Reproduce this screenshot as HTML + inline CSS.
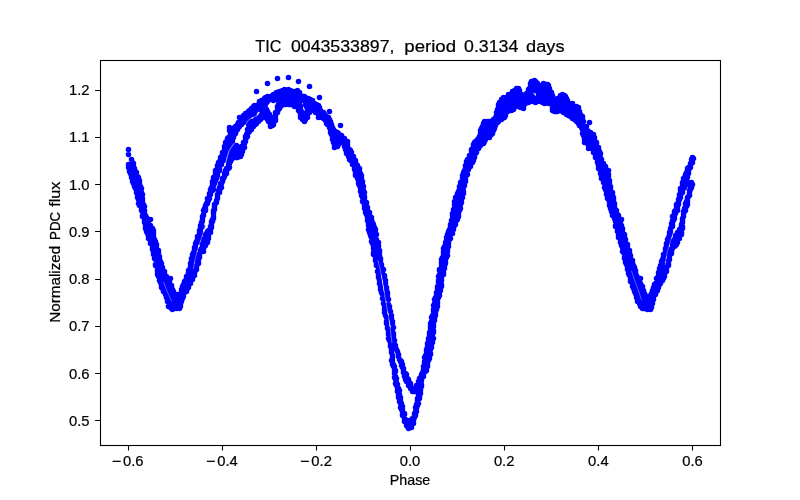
<!DOCTYPE html><html><head><meta charset="utf-8"><title>plot</title><style>html,body{margin:0;padding:0;background:#fff}svg{display:block}text{font-family:"Liberation Sans",sans-serif;fill:#000;stroke:#000;stroke-width:.22px}</style></head><body><svg width="800" height="500" viewBox="0 0 800 500"><rect width="800" height="500" fill="#fff"/><clipPath id="c"><rect x="100" y="60" width="620" height="385"/></clipPath><g clip-path="url(#c)"><path d="M128.5 149.5h0M128.5 154.5h0M128.5 164.5h0M128.5 167.5h0M129.5 167.5h0M129.5 171.5h0M130.5 173.5h0M131.5 159.5h0M131.5 164.5h0M131.5 165.5h0M131.5 166.5h0M131.5 170.5h0M131.5 176.5h0M131.5 177.5h0M132.5 162.5h0M132.5 165.5h0M132.5 181.5h0M133.5 163.5h0M133.5 166.5h0M133.5 171.5h0M133.5 183.5h0M134.5 168.5h0M134.5 174.5h0M134.5 176.5h0M134.5 186.5h0M135.5 171.5h0M135.5 179.5h0M135.5 188.5h0M136.5 172.5h0M136.5 181.5h0M136.5 192.5h0M137.5 176.5h0M137.5 185.5h0M137.5 194.5h0M137.5 197.5h0M138.5 177.5h0M138.5 187.5h0M138.5 191.5h0M138.5 199.5h0M138.5 203.5h0M139.5 180.5h0M139.5 183.5h0M139.5 193.5h0M139.5 205.5h0M140.5 186.5h0M140.5 197.5h0M140.5 199.5h0M141.5 188.5h0M141.5 192.5h0M141.5 203.5h0M141.5 209.5h0M141.5 210.5h0M142.5 194.5h0M142.5 198.5h0M142.5 200.5h0M142.5 205.5h0M142.5 209.5h0M142.5 211.5h0M142.5 215.5h0M142.5 216.5h0M143.5 204.5h0M144.5 206.5h0M144.5 210.5h0M144.5 211.5h0M144.5 214.5h0M144.5 216.5h0M144.5 220.5h0M144.5 222.5h0M145.5 215.5h0M145.5 220.5h0M145.5 226.5h0M145.5 228.5h0M146.5 217.5h0M146.5 221.5h0M146.5 231.5h0M147.5 220.5h0M147.5 224.5h0M147.5 233.5h0M148.5 221.5h0M148.5 226.5h0M148.5 229.5h0M148.5 236.5h0M148.5 238.5h0M149.5 225.5h0M149.5 230.5h0M150.5 219.5h0M150.5 225.5h0M150.5 234.5h0M150.5 236.5h0M150.5 241.5h0M150.5 243.5h0M151.5 240.5h0M152.5 228.5h0M152.5 241.5h0M152.5 247.5h0M152.5 249.5h0M153.5 230.5h0M153.5 233.5h0M153.5 236.5h0M153.5 252.5h0M153.5 254.5h0M154.5 239.5h0M154.5 245.5h0M154.5 247.5h0M154.5 258.5h0M155.5 241.5h0M155.5 250.5h0M155.5 252.5h0M155.5 259.5h0M155.5 264.5h0M155.5 265.5h0M156.5 244.5h0M156.5 246.5h0M156.5 256.5h0M157.5 258.5h0M157.5 269.5h0M157.5 271.5h0M157.5 274.5h0M158.5 250.5h0M158.5 252.5h0M158.5 261.5h0M158.5 264.5h0M158.5 276.5h0M159.5 256.5h0M159.5 258.5h0M159.5 268.5h0M159.5 280.5h0M160.5 261.5h0M160.5 269.5h0M160.5 282.5h0M161.5 263.5h0M161.5 273.5h0M161.5 285.5h0M161.5 287.5h0M162.5 267.5h0M162.5 268.5h0M162.5 274.5h0M162.5 278.5h0M162.5 286.5h0M162.5 287.5h0M162.5 288.5h0M163.5 279.5h0M163.5 286.5h0M163.5 289.5h0M163.5 291.5h0M164.5 271.5h0M164.5 273.5h0M164.5 282.5h0M164.5 285.5h0M164.5 287.5h0M165.5 284.5h0M165.5 285.5h0M165.5 290.5h0M165.5 292.5h0M165.5 294.5h0M166.5 276.5h0M166.5 278.5h0M166.5 289.5h0M166.5 290.5h0M166.5 294.5h0M166.5 296.5h0M166.5 297.5h0M167.5 287.5h0M167.5 288.5h0M167.5 289.5h0M167.5 292.5h0M167.5 296.5h0M167.5 298.5h0M167.5 299.5h0M167.5 301.5h0M168.5 281.5h0M168.5 287.5h0M168.5 291.5h0M168.5 294.5h0M168.5 297.5h0M168.5 300.5h0M168.5 306.5h0M169.5 281.5h0M169.5 285.5h0M169.5 289.5h0M169.5 292.5h0M169.5 295.5h0M169.5 298.5h0M169.5 302.5h0M169.5 304.5h0M169.5 305.5h0M170.5 278.5h0M170.5 287.5h0M170.5 290.5h0M170.5 294.5h0M170.5 297.5h0M170.5 300.5h0M170.5 304.5h0M170.5 307.5h0M171.5 285.5h0M171.5 286.5h0M171.5 288.5h0M171.5 292.5h0M171.5 296.5h0M171.5 299.5h0M171.5 302.5h0M171.5 305.5h0M171.5 308.5h0M172.5 289.5h0M172.5 290.5h0M172.5 294.5h0M172.5 297.5h0M172.5 300.5h0M172.5 303.5h0M172.5 307.5h0M172.5 309.5h0M173.5 291.5h0M173.5 292.5h0M173.5 294.5h0M173.5 295.5h0M173.5 299.5h0M173.5 302.5h0M173.5 305.5h0M174.5 297.5h0M174.5 300.5h0M174.5 304.5h0M174.5 307.5h0M175.5 297.5h0M175.5 298.5h0M175.5 302.5h0M175.5 305.5h0M176.5 300.5h0M176.5 304.5h0M176.5 307.5h0M176.5 308.5h0M177.5 294.5h0M177.5 297.5h0M177.5 299.5h0M177.5 301.5h0M177.5 302.5h0M177.5 304.5h0M177.5 305.5h0M177.5 307.5h0M178.5 305.5h0M179.5 297.5h0M179.5 299.5h0M179.5 300.5h0M179.5 302.5h0M179.5 303.5h0M179.5 308.5h0M180.5 294.5h0M180.5 296.5h0M180.5 299.5h0M180.5 302.5h0M180.5 304.5h0M180.5 306.5h0M181.5 289.5h0M181.5 291.5h0M181.5 296.5h0M181.5 300.5h0M181.5 301.5h0M182.5 286.5h0M182.5 290.5h0M182.5 293.5h0M182.5 295.5h0M182.5 297.5h0M182.5 298.5h0M183.5 284.5h0M183.5 292.5h0M183.5 293.5h0M183.5 296.5h0M184.5 281.5h0M184.5 288.5h0M184.5 290.5h0M184.5 292.5h0M185.5 280.5h0M185.5 287.5h0M185.5 290.5h0M185.5 291.5h0M186.5 276.5h0M186.5 289.5h0M186.5 291.5h0M187.5 275.5h0M187.5 283.5h0M187.5 288.5h0M188.5 270.5h0M188.5 272.5h0M188.5 282.5h0M188.5 287.5h0M189.5 269.5h0M189.5 277.5h0M189.5 279.5h0M189.5 283.5h0M190.5 263.5h0M190.5 266.5h0M190.5 269.5h0M190.5 283.5h0M191.5 258.5h0M191.5 260.5h0M191.5 263.5h0M191.5 266.5h0M191.5 272.5h0M191.5 274.5h0M192.5 254.5h0M192.5 260.5h0M192.5 268.5h0M192.5 269.5h0M192.5 278.5h0M192.5 279.5h0M193.5 252.5h0M193.5 254.5h0M193.5 257.5h0M194.5 247.5h0M194.5 249.5h0M194.5 253.5h0M194.5 273.5h0M194.5 275.5h0M195.5 243.5h0M195.5 246.5h0M195.5 248.5h0M195.5 270.5h0M196.5 241.5h0M196.5 265.5h0M196.5 266.5h0M196.5 267.5h0M196.5 268.5h0M196.5 269.5h0M197.5 236.5h0M197.5 237.5h0M197.5 242.5h0M197.5 259.5h0M197.5 261.5h0M198.5 238.5h0M198.5 256.5h0M198.5 261.5h0M198.5 263.5h0M199.5 230.5h0M199.5 232.5h0M199.5 237.5h0M199.5 253.5h0M199.5 255.5h0M199.5 257.5h0M200.5 225.5h0M200.5 227.5h0M200.5 231.5h0M200.5 233.5h0M200.5 250.5h0M200.5 251.5h0M201.5 222.5h0M201.5 227.5h0M201.5 248.5h0M202.5 216.5h0M202.5 219.5h0M202.5 220.5h0M202.5 221.5h0M202.5 226.5h0M202.5 243.5h0M202.5 245.5h0M202.5 248.5h0M203.5 210.5h0M203.5 214.5h0M203.5 215.5h0M203.5 240.5h0M203.5 248.5h0M203.5 251.5h0M204.5 208.5h0M204.5 238.5h0M204.5 242.5h0M204.5 243.5h0M204.5 246.5h0M205.5 205.5h0M205.5 208.5h0M205.5 210.5h0M205.5 234.5h0M205.5 245.5h0M206.5 203.5h0M206.5 204.5h0M206.5 233.5h0M206.5 237.5h0M206.5 239.5h0M207.5 198.5h0M207.5 199.5h0M207.5 203.5h0M207.5 231.5h0M207.5 234.5h0M207.5 241.5h0M207.5 242.5h0M208.5 200.5h0M208.5 230.5h0M208.5 236.5h0M208.5 238.5h0M209.5 193.5h0M209.5 194.5h0M209.5 198.5h0M210.5 189.5h0M210.5 194.5h0M210.5 226.5h0M210.5 228.5h0M210.5 230.5h0M210.5 232.5h0M211.5 187.5h0M211.5 221.5h0M211.5 222.5h0M211.5 225.5h0M211.5 227.5h0M212.5 181.5h0M212.5 183.5h0M212.5 190.5h0M212.5 219.5h0M212.5 221.5h0M213.5 177.5h0M213.5 185.5h0M213.5 189.5h0M213.5 210.5h0M213.5 212.5h0M213.5 213.5h0M213.5 216.5h0M213.5 218.5h0M214.5 176.5h0M214.5 183.5h0M214.5 204.5h0M214.5 206.5h0M214.5 207.5h0M214.5 209.5h0M215.5 170.5h0M215.5 172.5h0M215.5 180.5h0M215.5 203.5h0M216.5 178.5h0M216.5 200.5h0M216.5 201.5h0M216.5 202.5h0M217.5 165.5h0M217.5 167.5h0M217.5 173.5h0M217.5 175.5h0M217.5 194.5h0M217.5 196.5h0M217.5 197.5h0M217.5 198.5h0M218.5 162.5h0M218.5 190.5h0M219.5 161.5h0M219.5 168.5h0M219.5 170.5h0M219.5 187.5h0M219.5 191.5h0M219.5 192.5h0M220.5 157.5h0M220.5 183.5h0M220.5 184.5h0M220.5 188.5h0M221.5 156.5h0M221.5 163.5h0M221.5 164.5h0M221.5 183.5h0M221.5 187.5h0M222.5 152.5h0M222.5 178.5h0M222.5 179.5h0M222.5 181.5h0M223.5 152.5h0M223.5 158.5h0M223.5 160.5h0M223.5 178.5h0M224.5 146.5h0M224.5 148.5h0M224.5 155.5h0M224.5 173.5h0M224.5 174.5h0M224.5 176.5h0M225.5 142.5h0M225.5 153.5h0M225.5 170.5h0M226.5 141.5h0M226.5 147.5h0M226.5 148.5h0M226.5 168.5h0M226.5 171.5h0M226.5 173.5h0M227.5 138.5h0M227.5 141.5h0M227.5 143.5h0M227.5 149.5h0M227.5 150.5h0M228.5 137.5h0M228.5 138.5h0M228.5 139.5h0M228.5 142.5h0M228.5 144.5h0M228.5 160.5h0M228.5 163.5h0M228.5 164.5h0M228.5 168.5h0M229.5 127.5h0M229.5 130.5h0M229.5 137.5h0M229.5 140.5h0M229.5 144.5h0M229.5 146.5h0M229.5 147.5h0M229.5 157.5h0M229.5 160.5h0M229.5 161.5h0M229.5 162.5h0M229.5 163.5h0M229.5 167.5h0M230.5 133.5h0M230.5 134.5h0M230.5 136.5h0M230.5 138.5h0M230.5 139.5h0M230.5 142.5h0M230.5 146.5h0M230.5 148.5h0M230.5 153.5h0M230.5 155.5h0M230.5 159.5h0M230.5 161.5h0M231.5 132.5h0M231.5 134.5h0M231.5 137.5h0M231.5 141.5h0M231.5 142.5h0M231.5 143.5h0M231.5 144.5h0M231.5 147.5h0M231.5 154.5h0M231.5 157.5h0M231.5 159.5h0M232.5 129.5h0M232.5 130.5h0M232.5 132.5h0M232.5 133.5h0M232.5 134.5h0M232.5 135.5h0M232.5 137.5h0M232.5 138.5h0M232.5 139.5h0M232.5 142.5h0M232.5 145.5h0M232.5 149.5h0M232.5 151.5h0M232.5 152.5h0M232.5 155.5h0M232.5 157.5h0M233.5 129.5h0M233.5 130.5h0M233.5 136.5h0M233.5 137.5h0M233.5 147.5h0M233.5 150.5h0M233.5 154.5h0M233.5 155.5h0M233.5 157.5h0M234.5 127.5h0M234.5 130.5h0M234.5 132.5h0M234.5 134.5h0M234.5 145.5h0M234.5 149.5h0M234.5 151.5h0M234.5 152.5h0M235.5 126.5h0M235.5 127.5h0M235.5 129.5h0M235.5 132.5h0M235.5 133.5h0M235.5 147.5h0M235.5 152.5h0M235.5 154.5h0M235.5 157.5h0M236.5 126.5h0M236.5 130.5h0M236.5 145.5h0M236.5 149.5h0M236.5 153.5h0M236.5 155.5h0M237.5 124.5h0M237.5 128.5h0M237.5 129.5h0M237.5 147.5h0M237.5 151.5h0M237.5 156.5h0M237.5 157.5h0M238.5 122.5h0M238.5 125.5h0M238.5 127.5h0M238.5 147.5h0M238.5 149.5h0M238.5 150.5h0M238.5 152.5h0M239.5 117.5h0M239.5 122.5h0M239.5 124.5h0M239.5 126.5h0M239.5 148.5h0M239.5 152.5h0M239.5 154.5h0M239.5 155.5h0M240.5 120.5h0M240.5 154.5h0M240.5 156.5h0M241.5 118.5h0M241.5 119.5h0M241.5 124.5h0M241.5 146.5h0M241.5 147.5h0M241.5 150.5h0M241.5 152.5h0M241.5 154.5h0M242.5 117.5h0M242.5 121.5h0M242.5 122.5h0M242.5 147.5h0M242.5 149.5h0M242.5 150.5h0M242.5 151.5h0M243.5 115.5h0M243.5 119.5h0M243.5 122.5h0M243.5 142.5h0M243.5 144.5h0M243.5 145.5h0M243.5 146.5h0M243.5 147.5h0M244.5 116.5h0M244.5 117.5h0M244.5 120.5h0M244.5 143.5h0M244.5 147.5h0M245.5 113.5h0M245.5 116.5h0M245.5 119.5h0M245.5 136.5h0M245.5 137.5h0M245.5 139.5h0M245.5 141.5h0M246.5 114.5h0M246.5 118.5h0M246.5 120.5h0M246.5 134.5h0M246.5 135.5h0M246.5 137.5h0M247.5 112.5h0M247.5 113.5h0M247.5 116.5h0M247.5 119.5h0M247.5 122.5h0M247.5 129.5h0M247.5 132.5h0M247.5 136.5h0M248.5 111.5h0M248.5 114.5h0M248.5 121.5h0M248.5 124.5h0M248.5 128.5h0M248.5 130.5h0M248.5 131.5h0M248.5 132.5h0M249.5 110.5h0M249.5 112.5h0M249.5 116.5h0M249.5 122.5h0M249.5 125.5h0M249.5 129.5h0M249.5 131.5h0M250.5 111.5h0M250.5 114.5h0M250.5 121.5h0M250.5 124.5h0M250.5 127.5h0M250.5 128.5h0M251.5 108.5h0M251.5 109.5h0M251.5 113.5h0M251.5 122.5h0M251.5 125.5h0M251.5 126.5h0M251.5 128.5h0M251.5 129.5h0M252.5 110.5h0M252.5 112.5h0M252.5 114.5h0M252.5 121.5h0M252.5 124.5h0M253.5 106.5h0M253.5 109.5h0M253.5 122.5h0M253.5 124.5h0M253.5 125.5h0M253.5 126.5h0M254.5 105.5h0M254.5 106.5h0M254.5 107.5h0M254.5 111.5h0M254.5 112.5h0M254.5 114.5h0M254.5 121.5h0M255.5 109.5h0M255.5 111.5h0M255.5 119.5h0M255.5 121.5h0M255.5 122.5h0M255.5 124.5h0M256.5 91.5h0M256.5 107.5h0M256.5 122.5h0M256.5 123.5h0M257.5 106.5h0M257.5 109.5h0M257.5 121.5h0M258.5 104.5h0M258.5 105.5h0M258.5 107.5h0M258.5 119.5h0M258.5 121.5h0M259.5 101.5h0M259.5 104.5h0M259.5 117.5h0M259.5 119.5h0M260.5 105.5h0M260.5 107.5h0M260.5 109.5h0M260.5 116.5h0M260.5 119.5h0M261.5 100.5h0M261.5 101.5h0M261.5 103.5h0M261.5 104.5h0M261.5 114.5h0M261.5 116.5h0M261.5 117.5h0M262.5 103.5h0M262.5 106.5h0M262.5 107.5h0M262.5 109.5h0M262.5 112.5h0M262.5 116.5h0M262.5 117.5h0M263.5 101.5h0M263.5 104.5h0M263.5 107.5h0M263.5 111.5h0M263.5 114.5h0M263.5 115.5h0M263.5 117.5h0M264.5 98.5h0M264.5 99.5h0M264.5 103.5h0M264.5 106.5h0M264.5 109.5h0M264.5 112.5h0M264.5 115.5h0M264.5 116.5h0M265.5 97.5h0M265.5 98.5h0M265.5 101.5h0M265.5 104.5h0M265.5 108.5h0M265.5 111.5h0M265.5 114.5h0M265.5 116.5h0M266.5 99.5h0M266.5 102.5h0M266.5 109.5h0M266.5 113.5h0M266.5 115.5h0M266.5 117.5h0M267.5 83.5h0M267.5 96.5h0M267.5 98.5h0M267.5 101.5h0M267.5 111.5h0M267.5 114.5h0M267.5 117.5h0M267.5 119.5h0M268.5 99.5h0M268.5 113.5h0M268.5 115.5h0M268.5 119.5h0M268.5 121.5h0M269.5 98.5h0M269.5 114.5h0M269.5 116.5h0M269.5 118.5h0M269.5 121.5h0M270.5 96.5h0M270.5 99.5h0M270.5 119.5h0M270.5 122.5h0M270.5 124.5h0M270.5 126.5h0M271.5 98.5h0M271.5 118.5h0M271.5 121.5h0M271.5 124.5h0M272.5 95.5h0M272.5 99.5h0M272.5 119.5h0M272.5 122.5h0M272.5 125.5h0M273.5 94.5h0M273.5 95.5h0M273.5 96.5h0M273.5 97.5h0M273.5 99.5h0M273.5 100.5h0M273.5 117.5h0M273.5 119.5h0M273.5 120.5h0M273.5 122.5h0M273.5 123.5h0M273.5 124.5h0M274.5 94.5h0M275.5 93.5h0M275.5 98.5h0M275.5 112.5h0M275.5 114.5h0M275.5 115.5h0M275.5 118.5h0M275.5 120.5h0M276.5 92.5h0M276.5 96.5h0M276.5 99.5h0M277.5 78.5h0M277.5 94.5h0M277.5 96.5h0M277.5 98.5h0M277.5 99.5h0M277.5 106.5h0M277.5 107.5h0M277.5 110.5h0M277.5 112.5h0M278.5 93.5h0M278.5 97.5h0M278.5 100.5h0M278.5 104.5h0M278.5 108.5h0M278.5 109.5h0M279.5 91.5h0M279.5 92.5h0M279.5 95.5h0M279.5 96.5h0M279.5 99.5h0M279.5 102.5h0M279.5 106.5h0M279.5 108.5h0M280.5 94.5h0M280.5 97.5h0M280.5 100.5h0M280.5 104.5h0M280.5 106.5h0M281.5 92.5h0M281.5 96.5h0M281.5 99.5h0M281.5 102.5h0M281.5 105.5h0M282.5 90.5h0M282.5 94.5h0M282.5 97.5h0M282.5 101.5h0M282.5 104.5h0M283.5 91.5h0M283.5 92.5h0M283.5 96.5h0M283.5 99.5h0M283.5 102.5h0M283.5 104.5h0M284.5 89.5h0M284.5 91.5h0M284.5 94.5h0M284.5 97.5h0M284.5 101.5h0M284.5 104.5h0M285.5 90.5h0M285.5 93.5h0M285.5 96.5h0M285.5 99.5h0M285.5 102.5h0M285.5 104.5h0M286.5 91.5h0M286.5 94.5h0M286.5 97.5h0M286.5 101.5h0M287.5 93.5h0M287.5 96.5h0M287.5 99.5h0M287.5 103.5h0M288.5 77.5h0M288.5 89.5h0M288.5 91.5h0M288.5 94.5h0M288.5 98.5h0M288.5 101.5h0M288.5 104.5h0M289.5 90.5h0M289.5 93.5h0M289.5 96.5h0M289.5 99.5h0M289.5 103.5h0M290.5 90.5h0M290.5 94.5h0M290.5 98.5h0M290.5 101.5h0M290.5 104.5h0M291.5 92.5h0M291.5 94.5h0M291.5 96.5h0M291.5 99.5h0M291.5 102.5h0M292.5 91.5h0M292.5 92.5h0M292.5 98.5h0M292.5 101.5h0M292.5 103.5h0M292.5 104.5h0M293.5 91.5h0M293.5 94.5h0M293.5 96.5h0M293.5 98.5h0M293.5 99.5h0M293.5 102.5h0M294.5 99.5h0M294.5 101.5h0M294.5 103.5h0M294.5 106.5h0M295.5 91.5h0M295.5 92.5h0M295.5 94.5h0M295.5 96.5h0M295.5 103.5h0M296.5 92.5h0M296.5 96.5h0M296.5 98.5h0M296.5 99.5h0M296.5 101.5h0M297.5 90.5h0M297.5 91.5h0M297.5 95.5h0M297.5 98.5h0M297.5 101.5h0M297.5 102.5h0M297.5 104.5h0M297.5 106.5h0M298.5 81.5h0M298.5 92.5h0M298.5 96.5h0M298.5 99.5h0M298.5 102.5h0M298.5 106.5h0M298.5 108.5h0M298.5 110.5h0M299.5 92.5h0M299.5 94.5h0M299.5 98.5h0M299.5 101.5h0M299.5 104.5h0M299.5 107.5h0M299.5 109.5h0M299.5 111.5h0M300.5 95.5h0M300.5 96.5h0M300.5 99.5h0M300.5 106.5h0M300.5 109.5h0M300.5 112.5h0M300.5 113.5h0M300.5 115.5h0M300.5 117.5h0M301.5 98.5h0M301.5 100.5h0M301.5 111.5h0M301.5 114.5h0M301.5 117.5h0M302.5 96.5h0M302.5 99.5h0M302.5 112.5h0M302.5 116.5h0M302.5 119.5h0M303.5 96.5h0M303.5 98.5h0M303.5 114.5h0M303.5 117.5h0M304.5 96.5h0M304.5 99.5h0M304.5 113.5h0M304.5 116.5h0M304.5 119.5h0M304.5 121.5h0M305.5 97.5h0M305.5 100.5h0M305.5 104.5h0M305.5 114.5h0M305.5 117.5h0M305.5 119.5h0M306.5 99.5h0M306.5 102.5h0M306.5 106.5h0M306.5 113.5h0M306.5 116.5h0M307.5 98.5h0M307.5 101.5h0M307.5 104.5h0M307.5 108.5h0M307.5 111.5h0M307.5 113.5h0M307.5 114.5h0M307.5 117.5h0M308.5 98.5h0M308.5 99.5h0M308.5 102.5h0M308.5 106.5h0M308.5 109.5h0M308.5 112.5h0M309.5 86.5h0M309.5 99.5h0M309.5 101.5h0M309.5 102.5h0M309.5 104.5h0M309.5 108.5h0M309.5 109.5h0M309.5 111.5h0M309.5 112.5h0M310.5 99.5h0M310.5 101.5h0M310.5 106.5h0M311.5 103.5h0M311.5 104.5h0M311.5 105.5h0M311.5 107.5h0M311.5 110.5h0M312.5 100.5h0M312.5 109.5h0M313.5 104.5h0M313.5 108.5h0M313.5 109.5h0M314.5 103.5h0M314.5 104.5h0M314.5 106.5h0M314.5 107.5h0M315.5 104.5h0M315.5 112.5h0M316.5 104.5h0M316.5 106.5h0M316.5 108.5h0M316.5 109.5h0M317.5 105.5h0M317.5 109.5h0M317.5 111.5h0M318.5 105.5h0M318.5 108.5h0M318.5 112.5h0M318.5 113.5h0M318.5 114.5h0M318.5 117.5h0M319.5 97.5h0M319.5 107.5h0M319.5 109.5h0M319.5 111.5h0M319.5 113.5h0M319.5 114.5h0M320.5 110.5h0M320.5 111.5h0M320.5 114.5h0M321.5 113.5h0M321.5 115.5h0M321.5 117.5h0M322.5 114.5h0M322.5 117.5h0M323.5 112.5h0M323.5 116.5h0M323.5 118.5h0M324.5 114.5h0M324.5 117.5h0M325.5 116.5h0M325.5 119.5h0M325.5 120.5h0M326.5 116.5h0M326.5 118.5h0M326.5 121.5h0M326.5 123.5h0M327.5 119.5h0M327.5 122.5h0M327.5 124.5h0M328.5 117.5h0M328.5 121.5h0M328.5 124.5h0M329.5 111.5h0M329.5 119.5h0M329.5 123.5h0M329.5 125.5h0M329.5 127.5h0M330.5 121.5h0M330.5 122.5h0M330.5 124.5h0M330.5 129.5h0M330.5 132.5h0M331.5 124.5h0M331.5 125.5h0M331.5 132.5h0M331.5 133.5h0M331.5 134.5h0M332.5 127.5h0M332.5 131.5h0M332.5 133.5h0M332.5 136.5h0M332.5 139.5h0M333.5 129.5h0M333.5 130.5h0M333.5 134.5h0M333.5 135.5h0M333.5 137.5h0M333.5 142.5h0M334.5 140.5h0M334.5 142.5h0M334.5 145.5h0M334.5 147.5h0M335.5 131.5h0M335.5 132.5h0M335.5 135.5h0M335.5 138.5h0M335.5 140.5h0M336.5 132.5h0M336.5 134.5h0M336.5 135.5h0M336.5 138.5h0M336.5 139.5h0M336.5 142.5h0M336.5 144.5h0M337.5 132.5h0M337.5 134.5h0M337.5 137.5h0M337.5 140.5h0M337.5 144.5h0M337.5 145.5h0M337.5 146.5h0M338.5 133.5h0M338.5 135.5h0M338.5 139.5h0M338.5 142.5h0M338.5 144.5h0M339.5 137.5h0M339.5 140.5h0M340.5 125.5h0M340.5 136.5h0M340.5 138.5h0M340.5 142.5h0M341.5 135.5h0M341.5 137.5h0M341.5 141.5h0M342.5 137.5h0M342.5 139.5h0M342.5 142.5h0M343.5 141.5h0M344.5 138.5h0M344.5 139.5h0M344.5 142.5h0M344.5 144.5h0M344.5 146.5h0M345.5 140.5h0M345.5 144.5h0M345.5 147.5h0M345.5 149.5h0M346.5 142.5h0M346.5 143.5h0M346.5 146.5h0M346.5 149.5h0M346.5 151.5h0M346.5 153.5h0M347.5 141.5h0M347.5 144.5h0M347.5 146.5h0M347.5 147.5h0M347.5 149.5h0M347.5 150.5h0M348.5 149.5h0M348.5 152.5h0M348.5 156.5h0M349.5 149.5h0M349.5 150.5h0M349.5 152.5h0M349.5 154.5h0M349.5 159.5h0M350.5 150.5h0M350.5 160.5h0M351.5 152.5h0M351.5 154.5h0M351.5 157.5h0M352.5 163.5h0M352.5 164.5h0M353.5 156.5h0M353.5 157.5h0M353.5 159.5h0M353.5 161.5h0M354.5 165.5h0M354.5 168.5h0M354.5 169.5h0M355.5 160.5h0M355.5 161.5h0M355.5 165.5h0M355.5 173.5h0M355.5 175.5h0M356.5 164.5h0M357.5 165.5h0M357.5 169.5h0M357.5 171.5h0M357.5 178.5h0M358.5 174.5h0M358.5 177.5h0M358.5 180.5h0M358.5 183.5h0M359.5 168.5h0M359.5 169.5h0M359.5 180.5h0M359.5 185.5h0M360.5 173.5h0M360.5 182.5h0M360.5 188.5h0M360.5 191.5h0M361.5 175.5h0M361.5 178.5h0M361.5 185.5h0M361.5 186.5h0M361.5 195.5h0M362.5 181.5h0M362.5 184.5h0M362.5 197.5h0M362.5 201.5h0M363.5 186.5h0M363.5 190.5h0M363.5 202.5h0M364.5 192.5h0M364.5 196.5h0M364.5 198.5h0M364.5 206.5h0M364.5 208.5h0M365.5 212.5h0M366.5 202.5h0M366.5 203.5h0M366.5 214.5h0M367.5 207.5h0M367.5 209.5h0M367.5 213.5h0M367.5 215.5h0M367.5 217.5h0M367.5 220.5h0M368.5 223.5h0M368.5 225.5h0M368.5 229.5h0M369.5 212.5h0M369.5 214.5h0M369.5 216.5h0M369.5 220.5h0M369.5 222.5h0M369.5 232.5h0M370.5 226.5h0M370.5 235.5h0M371.5 217.5h0M371.5 219.5h0M371.5 227.5h0M371.5 237.5h0M371.5 241.5h0M372.5 222.5h0M372.5 232.5h0M372.5 234.5h0M372.5 243.5h0M373.5 224.5h0M373.5 237.5h0M373.5 239.5h0M373.5 246.5h0M373.5 248.5h0M373.5 252.5h0M373.5 254.5h0M374.5 227.5h0M374.5 243.5h0M375.5 229.5h0M375.5 232.5h0M375.5 245.5h0M375.5 258.5h0M375.5 260.5h0M376.5 234.5h0M376.5 239.5h0M376.5 240.5h0M376.5 248.5h0M376.5 250.5h0M376.5 263.5h0M376.5 265.5h0M377.5 254.5h0M377.5 256.5h0M377.5 259.5h0M377.5 271.5h0M378.5 242.5h0M378.5 245.5h0M378.5 246.5h0M378.5 269.5h0M378.5 275.5h0M378.5 277.5h0M379.5 250.5h0M379.5 252.5h0M379.5 255.5h0M379.5 280.5h0M379.5 283.5h0M380.5 258.5h0M380.5 260.5h0M380.5 272.5h0M380.5 286.5h0M380.5 289.5h0M381.5 264.5h0M381.5 266.5h0M381.5 292.5h0M382.5 271.5h0M382.5 294.5h0M382.5 298.5h0M383.5 269.5h0M383.5 299.5h0M383.5 303.5h0M384.5 275.5h0M384.5 277.5h0M384.5 306.5h0M384.5 309.5h0M384.5 312.5h0M385.5 280.5h0M385.5 283.5h0M385.5 315.5h0M386.5 287.5h0M386.5 289.5h0M386.5 317.5h0M386.5 321.5h0M386.5 323.5h0M387.5 292.5h0M387.5 294.5h0M387.5 297.5h0M387.5 327.5h0M387.5 328.5h0M388.5 299.5h0M388.5 304.5h0M388.5 332.5h0M388.5 334.5h0M388.5 338.5h0M389.5 306.5h0M389.5 309.5h0M389.5 340.5h0M390.5 311.5h0M390.5 344.5h0M390.5 346.5h0M391.5 315.5h0M391.5 318.5h0M391.5 350.5h0M391.5 352.5h0M391.5 360.5h0M392.5 321.5h0M392.5 323.5h0M392.5 329.5h0M392.5 355.5h0M392.5 357.5h0M392.5 360.5h0M392.5 364.5h0M393.5 327.5h0M393.5 333.5h0M393.5 335.5h0M393.5 338.5h0M393.5 348.5h0M393.5 364.5h0M393.5 366.5h0M394.5 340.5h0M394.5 344.5h0M394.5 366.5h0M394.5 370.5h0M394.5 373.5h0M394.5 377.5h0M395.5 345.5h0M395.5 370.5h0M395.5 371.5h0M395.5 376.5h0M395.5 379.5h0M395.5 383.5h0M396.5 349.5h0M396.5 378.5h0M396.5 382.5h0M396.5 385.5h0M397.5 351.5h0M397.5 384.5h0M397.5 389.5h0M397.5 391.5h0M398.5 354.5h0M398.5 356.5h0M398.5 388.5h0M398.5 395.5h0M398.5 397.5h0M399.5 359.5h0M399.5 390.5h0M399.5 394.5h0M399.5 401.5h0M400.5 360.5h0M400.5 361.5h0M400.5 397.5h0M400.5 400.5h0M400.5 403.5h0M400.5 407.5h0M401.5 361.5h0M401.5 362.5h0M401.5 365.5h0M401.5 403.5h0M401.5 409.5h0M402.5 364.5h0M402.5 367.5h0M402.5 406.5h0M402.5 409.5h0M402.5 413.5h0M402.5 415.5h0M403.5 368.5h0M403.5 369.5h0M403.5 371.5h0M403.5 372.5h0M404.5 375.5h0M404.5 376.5h0M404.5 413.5h0M404.5 414.5h0M404.5 419.5h0M404.5 421.5h0M405.5 373.5h0M405.5 376.5h0M405.5 379.5h0M405.5 419.5h0M406.5 374.5h0M406.5 377.5h0M406.5 381.5h0M406.5 420.5h0M406.5 425.5h0M407.5 378.5h0M407.5 380.5h0M407.5 424.5h0M407.5 425.5h0M407.5 426.5h0M408.5 379.5h0M408.5 382.5h0M408.5 384.5h0M408.5 385.5h0M408.5 427.5h0M408.5 428.5h0M409.5 382.5h0M409.5 420.5h0M409.5 427.5h0M410.5 383.5h0M410.5 384.5h0M410.5 385.5h0M410.5 386.5h0M410.5 388.5h0M410.5 427.5h0M411.5 422.5h0M411.5 423.5h0M411.5 424.5h0M411.5 426.5h0M411.5 427.5h0M412.5 388.5h0M412.5 389.5h0M412.5 391.5h0M412.5 418.5h0M412.5 423.5h0M413.5 391.5h0M413.5 417.5h0M413.5 419.5h0M413.5 421.5h0M413.5 423.5h0M414.5 390.5h0M414.5 391.5h0M414.5 413.5h0M414.5 417.5h0M415.5 389.5h0M415.5 391.5h0M415.5 407.5h0M415.5 411.5h0M415.5 413.5h0M415.5 415.5h0M416.5 385.5h0M416.5 386.5h0M416.5 387.5h0M416.5 404.5h0M416.5 407.5h0M416.5 408.5h0M416.5 411.5h0M417.5 398.5h0M417.5 400.5h0M417.5 401.5h0M417.5 404.5h0M417.5 405.5h0M418.5 381.5h0M418.5 382.5h0M418.5 384.5h0M418.5 385.5h0M418.5 393.5h0M418.5 395.5h0M418.5 398.5h0M418.5 403.5h0M419.5 378.5h0M419.5 381.5h0M419.5 384.5h0M419.5 390.5h0M419.5 392.5h0M419.5 394.5h0M419.5 396.5h0M419.5 398.5h0M420.5 377.5h0M420.5 379.5h0M420.5 384.5h0M420.5 386.5h0M420.5 388.5h0M420.5 390.5h0M420.5 393.5h0M421.5 374.5h0M421.5 379.5h0M421.5 380.5h0M421.5 384.5h0M421.5 386.5h0M422.5 372.5h0M423.5 366.5h0M423.5 369.5h0M423.5 374.5h0M423.5 376.5h0M424.5 357.5h0M424.5 361.5h0M424.5 363.5h0M425.5 355.5h0M425.5 363.5h0M425.5 364.5h0M425.5 371.5h0M426.5 349.5h0M426.5 351.5h0M426.5 358.5h0M426.5 359.5h0M426.5 370.5h0M427.5 343.5h0M427.5 346.5h0M427.5 354.5h0M427.5 364.5h0M427.5 366.5h0M428.5 338.5h0M428.5 340.5h0M428.5 352.5h0M428.5 360.5h0M429.5 332.5h0M429.5 334.5h0M429.5 347.5h0M429.5 348.5h0M429.5 358.5h0M430.5 323.5h0M430.5 326.5h0M430.5 328.5h0M430.5 337.5h0M430.5 341.5h0M430.5 343.5h0M430.5 349.5h0M430.5 353.5h0M430.5 354.5h0M431.5 317.5h0M431.5 321.5h0M431.5 337.5h0M431.5 344.5h0M431.5 347.5h0M432.5 315.5h0M432.5 336.5h0M432.5 342.5h0M433.5 305.5h0M433.5 309.5h0M433.5 311.5h0M433.5 324.5h0M433.5 326.5h0M433.5 330.5h0M433.5 332.5h0M433.5 338.5h0M434.5 299.5h0M434.5 303.5h0M434.5 318.5h0M434.5 320.5h0M435.5 297.5h0M435.5 312.5h0M435.5 315.5h0M436.5 292.5h0M436.5 293.5h0M436.5 309.5h0M437.5 286.5h0M437.5 288.5h0M437.5 301.5h0M437.5 303.5h0M437.5 306.5h0M438.5 276.5h0M438.5 280.5h0M438.5 282.5h0M438.5 297.5h0M439.5 269.5h0M439.5 270.5h0M439.5 274.5h0M439.5 292.5h0M439.5 295.5h0M440.5 276.5h0M440.5 277.5h0M440.5 290.5h0M441.5 259.5h0M441.5 262.5h0M441.5 265.5h0M441.5 272.5h0M441.5 278.5h0M441.5 280.5h0M441.5 284.5h0M441.5 286.5h0M442.5 257.5h0M442.5 264.5h0M442.5 266.5h0M442.5 269.5h0M443.5 248.5h0M443.5 251.5h0M443.5 253.5h0M443.5 272.5h0M443.5 274.5h0M444.5 246.5h0M444.5 252.5h0M444.5 254.5h0M444.5 258.5h0M444.5 260.5h0M444.5 266.5h0M444.5 268.5h0M445.5 242.5h0M445.5 248.5h0M445.5 261.5h0M445.5 263.5h0M446.5 237.5h0M446.5 240.5h0M446.5 246.5h0M446.5 257.5h0M447.5 234.5h0M447.5 242.5h0M447.5 243.5h0M447.5 249.5h0M447.5 251.5h0M447.5 255.5h0M448.5 231.5h0M448.5 243.5h0M448.5 246.5h0M449.5 229.5h0M449.5 233.5h0M449.5 235.5h0M449.5 239.5h0M450.5 224.5h0M450.5 225.5h0M450.5 231.5h0M450.5 234.5h0M450.5 238.5h0M451.5 220.5h0M451.5 228.5h0M452.5 213.5h0M452.5 215.5h0M452.5 218.5h0M452.5 226.5h0M452.5 233.5h0M453.5 209.5h0M453.5 223.5h0M453.5 228.5h0M453.5 229.5h0M454.5 201.5h0M454.5 204.5h0M454.5 207.5h0M454.5 222.5h0M454.5 225.5h0M455.5 197.5h0M455.5 216.5h0M455.5 218.5h0M455.5 224.5h0M456.5 196.5h0M456.5 206.5h0M456.5 210.5h0M456.5 212.5h0M456.5 220.5h0M457.5 193.5h0M457.5 201.5h0M457.5 204.5h0M457.5 219.5h0M458.5 191.5h0M458.5 199.5h0M458.5 214.5h0M458.5 216.5h0M459.5 186.5h0M459.5 188.5h0M459.5 195.5h0M459.5 210.5h0M460.5 182.5h0M460.5 193.5h0M460.5 204.5h0M460.5 208.5h0M461.5 181.5h0M461.5 187.5h0M461.5 189.5h0M461.5 199.5h0M461.5 202.5h0M462.5 175.5h0M462.5 177.5h0M462.5 182.5h0M462.5 184.5h0M462.5 197.5h0M463.5 172.5h0M463.5 178.5h0M463.5 187.5h0M463.5 191.5h0M463.5 193.5h0M464.5 170.5h0M464.5 177.5h0M464.5 185.5h0M465.5 165.5h0M465.5 166.5h0M465.5 171.5h0M465.5 173.5h0M465.5 179.5h0M465.5 181.5h0M466.5 161.5h0M466.5 175.5h0M467.5 159.5h0M467.5 166.5h0M467.5 167.5h0M467.5 170.5h0M467.5 174.5h0M468.5 169.5h0M469.5 155.5h0M469.5 156.5h0M469.5 161.5h0M469.5 162.5h0M470.5 165.5h0M470.5 166.5h0M471.5 149.5h0M471.5 150.5h0M471.5 151.5h0M471.5 154.5h0M471.5 155.5h0M471.5 156.5h0M471.5 158.5h0M472.5 150.5h0M472.5 151.5h0M472.5 152.5h0M472.5 154.5h0M472.5 162.5h0M473.5 144.5h0M473.5 145.5h0M473.5 146.5h0M473.5 147.5h0M473.5 152.5h0M473.5 153.5h0M473.5 160.5h0M474.5 142.5h0M474.5 144.5h0M474.5 145.5h0M474.5 149.5h0M474.5 151.5h0M474.5 152.5h0M474.5 154.5h0M474.5 155.5h0M474.5 156.5h0M474.5 157.5h0M475.5 141.5h0M475.5 143.5h0M475.5 146.5h0M475.5 147.5h0M475.5 148.5h0M475.5 149.5h0M475.5 150.5h0M475.5 153.5h0M476.5 143.5h0M476.5 144.5h0M476.5 147.5h0M476.5 149.5h0M476.5 151.5h0M476.5 152.5h0M477.5 139.5h0M477.5 140.5h0M477.5 142.5h0M477.5 143.5h0M477.5 146.5h0M477.5 148.5h0M478.5 138.5h0M478.5 141.5h0M478.5 144.5h0M478.5 147.5h0M478.5 148.5h0M479.5 136.5h0M479.5 139.5h0M479.5 141.5h0M479.5 142.5h0M479.5 146.5h0M480.5 130.5h0M480.5 133.5h0M480.5 134.5h0M480.5 138.5h0M480.5 139.5h0M480.5 141.5h0M480.5 143.5h0M480.5 144.5h0M480.5 145.5h0M481.5 128.5h0M481.5 133.5h0M481.5 136.5h0M481.5 139.5h0M481.5 142.5h0M481.5 143.5h0M482.5 126.5h0M482.5 128.5h0M482.5 131.5h0M482.5 135.5h0M482.5 138.5h0M482.5 141.5h0M483.5 123.5h0M483.5 126.5h0M483.5 130.5h0M483.5 133.5h0M483.5 136.5h0M483.5 139.5h0M483.5 140.5h0M483.5 141.5h0M483.5 143.5h0M484.5 121.5h0M484.5 123.5h0M484.5 124.5h0M484.5 128.5h0M484.5 131.5h0M484.5 134.5h0M484.5 138.5h0M484.5 141.5h0M485.5 126.5h0M485.5 129.5h0M485.5 133.5h0M485.5 136.5h0M485.5 139.5h0M486.5 121.5h0M486.5 125.5h0M486.5 126.5h0M486.5 127.5h0M486.5 131.5h0M486.5 134.5h0M487.5 123.5h0M487.5 128.5h0M487.5 129.5h0M487.5 133.5h0M487.5 134.5h0M487.5 136.5h0M488.5 121.5h0M488.5 124.5h0M488.5 126.5h0M488.5 131.5h0M489.5 123.5h0M489.5 125.5h0M489.5 128.5h0M489.5 129.5h0M489.5 133.5h0M489.5 136.5h0M489.5 137.5h0M490.5 121.5h0M490.5 123.5h0M490.5 126.5h0M490.5 130.5h0M490.5 131.5h0M490.5 134.5h0M491.5 125.5h0M491.5 133.5h0M491.5 134.5h0M492.5 120.5h0M492.5 126.5h0M492.5 128.5h0M492.5 131.5h0M492.5 133.5h0M493.5 119.5h0M493.5 121.5h0M493.5 123.5h0M493.5 124.5h0M493.5 129.5h0M493.5 130.5h0M494.5 119.5h0M494.5 123.5h0M494.5 126.5h0M494.5 128.5h0M495.5 117.5h0M495.5 118.5h0M495.5 121.5h0M495.5 124.5h0M495.5 125.5h0M496.5 112.5h0M496.5 115.5h0M496.5 116.5h0M496.5 119.5h0M497.5 109.5h0M497.5 111.5h0M497.5 115.5h0M497.5 118.5h0M497.5 121.5h0M497.5 122.5h0M498.5 104.5h0M498.5 106.5h0M498.5 110.5h0M498.5 112.5h0M498.5 116.5h0M498.5 120.5h0M498.5 121.5h0M499.5 102.5h0M499.5 104.5h0M499.5 108.5h0M499.5 111.5h0M499.5 114.5h0M499.5 118.5h0M500.5 103.5h0M500.5 106.5h0M500.5 110.5h0M500.5 113.5h0M500.5 116.5h0M501.5 99.5h0M501.5 101.5h0M501.5 104.5h0M501.5 108.5h0M501.5 111.5h0M501.5 114.5h0M501.5 118.5h0M501.5 119.5h0M502.5 99.5h0M502.5 103.5h0M502.5 106.5h0M502.5 110.5h0M502.5 113.5h0M502.5 116.5h0M502.5 118.5h0M503.5 97.5h0M503.5 98.5h0M503.5 101.5h0M503.5 105.5h0M503.5 106.5h0M503.5 108.5h0M503.5 111.5h0M503.5 114.5h0M504.5 100.5h0M504.5 102.5h0M504.5 103.5h0M504.5 104.5h0M504.5 110.5h0M504.5 113.5h0M504.5 116.5h0M504.5 117.5h0M505.5 98.5h0M505.5 106.5h0M505.5 108.5h0M505.5 110.5h0M505.5 111.5h0M505.5 114.5h0M505.5 115.5h0M506.5 97.5h0M506.5 100.5h0M506.5 103.5h0M506.5 105.5h0M506.5 111.5h0M507.5 98.5h0M507.5 99.5h0M507.5 102.5h0M507.5 108.5h0M507.5 111.5h0M508.5 94.5h0M508.5 97.5h0M508.5 98.5h0M508.5 103.5h0M508.5 106.5h0M508.5 109.5h0M509.5 101.5h0M509.5 105.5h0M509.5 106.5h0M509.5 108.5h0M509.5 109.5h0M509.5 110.5h0M510.5 97.5h0M510.5 99.5h0M510.5 101.5h0M510.5 103.5h0M510.5 108.5h0M511.5 94.5h0M511.5 98.5h0M511.5 102.5h0M511.5 105.5h0M511.5 106.5h0M511.5 110.5h0M512.5 91.5h0M512.5 95.5h0M512.5 97.5h0M512.5 100.5h0M512.5 104.5h0M513.5 92.5h0M513.5 93.5h0M513.5 97.5h0M513.5 98.5h0M513.5 101.5h0M513.5 103.5h0M513.5 106.5h0M513.5 108.5h0M513.5 109.5h0M514.5 90.5h0M514.5 99.5h0M514.5 102.5h0M514.5 104.5h0M514.5 107.5h0M515.5 92.5h0M515.5 93.5h0M515.5 95.5h0M515.5 96.5h0M515.5 98.5h0M515.5 100.5h0M515.5 103.5h0M515.5 106.5h0M516.5 88.5h0M516.5 90.5h0M516.5 91.5h0M516.5 95.5h0M516.5 98.5h0M516.5 102.5h0M516.5 105.5h0M517.5 93.5h0M517.5 96.5h0M517.5 99.5h0M517.5 103.5h0M518.5 88.5h0M518.5 90.5h0M518.5 91.5h0M518.5 94.5h0M518.5 98.5h0M518.5 102.5h0M518.5 104.5h0M518.5 106.5h0M519.5 90.5h0M519.5 91.5h0M519.5 93.5h0M519.5 96.5h0M519.5 99.5h0M519.5 103.5h0M519.5 106.5h0M520.5 95.5h0M520.5 98.5h0M520.5 101.5h0M520.5 104.5h0M520.5 107.5h0M521.5 94.5h0M521.5 96.5h0M521.5 99.5h0M521.5 101.5h0M521.5 103.5h0M521.5 106.5h0M522.5 96.5h0M522.5 98.5h0M522.5 103.5h0M522.5 104.5h0M523.5 97.5h0M523.5 100.5h0M523.5 105.5h0M523.5 106.5h0M523.5 108.5h0M524.5 98.5h0M524.5 101.5h0M524.5 104.5h0M525.5 95.5h0M525.5 96.5h0M525.5 100.5h0M525.5 101.5h0M525.5 103.5h0M526.5 93.5h0M526.5 98.5h0M527.5 96.5h0M527.5 99.5h0M528.5 89.5h0M528.5 90.5h0M528.5 91.5h0M528.5 93.5h0M528.5 95.5h0M528.5 98.5h0M528.5 102.5h0M529.5 88.5h0M529.5 91.5h0M529.5 95.5h0M529.5 96.5h0M529.5 98.5h0M529.5 99.5h0M530.5 83.5h0M530.5 86.5h0M530.5 90.5h0M530.5 93.5h0M530.5 97.5h0M530.5 100.5h0M531.5 81.5h0M531.5 82.5h0M531.5 83.5h0M531.5 85.5h0M531.5 86.5h0M531.5 88.5h0M531.5 91.5h0M532.5 83.5h0M532.5 86.5h0M532.5 90.5h0M532.5 96.5h0M532.5 98.5h0M532.5 100.5h0M532.5 101.5h0M533.5 82.5h0M533.5 98.5h0M534.5 80.5h0M534.5 83.5h0M534.5 85.5h0M534.5 86.5h0M534.5 88.5h0M534.5 90.5h0M534.5 100.5h0M535.5 81.5h0M535.5 85.5h0M535.5 88.5h0M535.5 98.5h0M535.5 101.5h0M535.5 102.5h0M536.5 82.5h0M536.5 83.5h0M536.5 86.5h0M536.5 90.5h0M536.5 100.5h0M537.5 83.5h0M537.5 85.5h0M537.5 88.5h0M537.5 91.5h0M537.5 98.5h0M537.5 101.5h0M538.5 86.5h0M538.5 90.5h0M538.5 93.5h0M538.5 96.5h0M538.5 100.5h0M539.5 85.5h0M539.5 88.5h0M539.5 92.5h0M539.5 95.5h0M539.5 98.5h0M540.5 86.5h0M540.5 90.5h0M540.5 93.5h0M540.5 96.5h0M540.5 100.5h0M540.5 101.5h0M541.5 88.5h0M541.5 91.5h0M541.5 93.5h0M541.5 95.5h0M541.5 98.5h0M542.5 85.5h0M542.5 86.5h0M542.5 90.5h0M542.5 96.5h0M542.5 99.5h0M542.5 102.5h0M543.5 83.5h0M543.5 85.5h0M543.5 87.5h0M543.5 88.5h0M543.5 91.5h0M543.5 95.5h0M543.5 97.5h0M543.5 98.5h0M543.5 101.5h0M544.5 88.5h0M544.5 90.5h0M544.5 93.5h0M544.5 98.5h0M544.5 100.5h0M544.5 101.5h0M544.5 103.5h0M545.5 85.5h0M545.5 87.5h0M545.5 90.5h0M545.5 91.5h0M545.5 93.5h0M545.5 95.5h0M546.5 84.5h0M546.5 88.5h0M546.5 92.5h0M546.5 95.5h0M546.5 96.5h0M546.5 98.5h0M546.5 99.5h0M546.5 101.5h0M547.5 84.5h0M547.5 93.5h0M547.5 96.5h0M547.5 102.5h0M548.5 85.5h0M548.5 86.5h0M548.5 88.5h0M548.5 90.5h0M548.5 100.5h0M548.5 101.5h0M548.5 103.5h0M549.5 88.5h0M549.5 92.5h0M549.5 93.5h0M549.5 95.5h0M549.5 96.5h0M549.5 98.5h0M549.5 100.5h0M550.5 91.5h0M550.5 95.5h0M550.5 101.5h0M551.5 92.5h0M551.5 96.5h0M551.5 98.5h0M551.5 99.5h0M551.5 103.5h0M552.5 95.5h0M552.5 97.5h0M552.5 98.5h0M552.5 101.5h0M552.5 104.5h0M552.5 107.5h0M552.5 108.5h0M552.5 110.5h0M553.5 100.5h0M553.5 104.5h0M553.5 106.5h0M553.5 110.5h0M554.5 99.5h0M554.5 101.5h0M554.5 103.5h0M554.5 105.5h0M554.5 108.5h0M554.5 111.5h0M555.5 100.5h0M555.5 103.5h0M555.5 106.5h0M555.5 110.5h0M555.5 111.5h0M556.5 101.5h0M556.5 104.5h0M556.5 108.5h0M557.5 98.5h0M557.5 100.5h0M557.5 103.5h0M557.5 106.5h0M557.5 109.5h0M557.5 111.5h0M558.5 98.5h0M558.5 101.5h0M558.5 105.5h0M558.5 108.5h0M559.5 97.5h0M559.5 99.5h0M559.5 103.5h0M559.5 106.5h0M559.5 110.5h0M560.5 95.5h0M560.5 96.5h0M560.5 98.5h0M560.5 101.5h0M560.5 103.5h0M560.5 104.5h0M560.5 108.5h0M561.5 99.5h0M561.5 106.5h0M561.5 110.5h0M562.5 94.5h0M562.5 96.5h0M562.5 98.5h0M562.5 101.5h0M562.5 104.5h0M562.5 106.5h0M562.5 108.5h0M562.5 111.5h0M563.5 98.5h0M563.5 99.5h0M563.5 103.5h0M563.5 110.5h0M563.5 112.5h0M564.5 95.5h0M564.5 99.5h0M564.5 101.5h0M564.5 103.5h0M564.5 104.5h0M564.5 106.5h0M564.5 108.5h0M564.5 111.5h0M565.5 96.5h0M565.5 97.5h0M565.5 98.5h0M565.5 101.5h0M565.5 110.5h0M565.5 112.5h0M566.5 98.5h0M566.5 104.5h0M566.5 106.5h0M566.5 108.5h0M566.5 111.5h0M566.5 114.5h0M567.5 100.5h0M567.5 101.5h0M567.5 103.5h0M567.5 108.5h0M567.5 110.5h0M567.5 113.5h0M567.5 114.5h0M568.5 103.5h0M568.5 105.5h0M568.5 106.5h0M568.5 111.5h0M568.5 115.5h0M569.5 103.5h0M569.5 106.5h0M569.5 109.5h0M569.5 111.5h0M569.5 113.5h0M570.5 106.5h0M570.5 108.5h0M570.5 109.5h0M570.5 112.5h0M570.5 115.5h0M570.5 116.5h0M571.5 111.5h0M571.5 116.5h0M572.5 103.5h0M572.5 106.5h0M572.5 108.5h0M572.5 110.5h0M572.5 113.5h0M572.5 114.5h0M572.5 116.5h0M572.5 118.5h0M573.5 108.5h0M573.5 111.5h0M573.5 115.5h0M573.5 118.5h0M574.5 110.5h0M574.5 113.5h0M574.5 116.5h0M574.5 119.5h0M575.5 107.5h0M575.5 108.5h0M575.5 111.5h0M575.5 115.5h0M575.5 118.5h0M576.5 106.5h0M576.5 109.5h0M576.5 113.5h0M576.5 116.5h0M576.5 120.5h0M576.5 121.5h0M577.5 108.5h0M577.5 111.5h0M577.5 115.5h0M577.5 118.5h0M577.5 121.5h0M578.5 107.5h0M578.5 109.5h0M578.5 110.5h0M578.5 112.5h0M578.5 116.5h0M578.5 120.5h0M578.5 122.5h0M578.5 123.5h0M579.5 111.5h0M579.5 112.5h0M579.5 114.5h0M579.5 118.5h0M579.5 121.5h0M579.5 124.5h0M579.5 125.5h0M580.5 114.5h0M580.5 116.5h0M580.5 118.5h0M580.5 119.5h0M580.5 123.5h0M581.5 121.5h0M581.5 125.5h0M581.5 127.5h0M582.5 116.5h0M582.5 118.5h0M582.5 120.5h0M582.5 123.5h0M582.5 124.5h0M582.5 125.5h0M582.5 126.5h0M582.5 129.5h0M582.5 133.5h0M583.5 121.5h0M583.5 126.5h0M583.5 135.5h0M584.5 129.5h0M584.5 130.5h0M584.5 138.5h0M584.5 139.5h0M584.5 142.5h0M585.5 129.5h0M586.5 126.5h0M586.5 129.5h0M586.5 132.5h0M587.5 130.5h0M587.5 133.5h0M587.5 142.5h0M587.5 143.5h0M588.5 131.5h0M588.5 136.5h0M588.5 137.5h0M588.5 145.5h0M588.5 148.5h0M589.5 122.5h0M589.5 132.5h0M589.5 145.5h0M590.5 132.5h0M590.5 140.5h0M590.5 142.5h0M591.5 137.5h0M591.5 147.5h0M591.5 148.5h0M592.5 134.5h0M592.5 144.5h0M593.5 134.5h0M593.5 145.5h0M593.5 151.5h0M593.5 152.5h0M594.5 137.5h0M594.5 139.5h0M594.5 147.5h0M595.5 148.5h0M595.5 155.5h0M595.5 157.5h0M596.5 142.5h0M596.5 143.5h0M597.5 151.5h0M597.5 153.5h0M597.5 157.5h0M597.5 161.5h0M597.5 162.5h0M598.5 147.5h0M598.5 148.5h0M598.5 165.5h0M598.5 168.5h0M599.5 151.5h0M599.5 159.5h0M599.5 162.5h0M600.5 153.5h0M600.5 157.5h0M600.5 163.5h0M600.5 171.5h0M600.5 173.5h0M601.5 159.5h0M601.5 176.5h0M601.5 178.5h0M602.5 163.5h0M602.5 167.5h0M603.5 163.5h0M603.5 168.5h0M603.5 182.5h0M604.5 171.5h0M604.5 173.5h0M604.5 183.5h0M604.5 187.5h0M605.5 166.5h0M605.5 177.5h0M605.5 180.5h0M605.5 189.5h0M606.5 169.5h0M606.5 183.5h0M606.5 193.5h0M606.5 194.5h0M607.5 185.5h0M607.5 198.5h0M608.5 170.5h0M608.5 174.5h0M608.5 176.5h0M608.5 189.5h0M608.5 199.5h0M609.5 180.5h0M609.5 182.5h0M609.5 191.5h0M609.5 203.5h0M609.5 205.5h0M610.5 186.5h0M610.5 188.5h0M610.5 194.5h0M610.5 196.5h0M610.5 208.5h0M611.5 200.5h0M611.5 202.5h0M611.5 211.5h0M612.5 192.5h0M612.5 194.5h0M612.5 205.5h0M612.5 208.5h0M612.5 214.5h0M612.5 215.5h0M613.5 197.5h0M613.5 199.5h0M613.5 211.5h0M614.5 203.5h0M614.5 205.5h0M614.5 213.5h0M614.5 218.5h0M615.5 209.5h0M615.5 216.5h0M615.5 221.5h0M615.5 225.5h0M615.5 226.5h0M616.5 210.5h0M616.5 217.5h0M617.5 214.5h0M617.5 220.5h0M617.5 222.5h0M617.5 230.5h0M617.5 231.5h0M618.5 215.5h0M618.5 226.5h0M618.5 235.5h0M618.5 237.5h0M619.5 219.5h0M619.5 228.5h0M620.5 219.5h0M620.5 223.5h0M620.5 232.5h0M620.5 240.5h0M620.5 242.5h0M621.5 219.5h0M621.5 225.5h0M621.5 233.5h0M621.5 245.5h0M622.5 228.5h0M622.5 230.5h0M622.5 237.5h0M622.5 238.5h0M622.5 247.5h0M622.5 251.5h0M623.5 242.5h0M623.5 252.5h0M624.5 234.5h0M624.5 236.5h0M624.5 244.5h0M624.5 256.5h0M624.5 258.5h0M625.5 239.5h0M625.5 241.5h0M625.5 248.5h0M625.5 249.5h0M625.5 262.5h0M626.5 253.5h0M626.5 264.5h0M627.5 244.5h0M627.5 247.5h0M627.5 255.5h0M627.5 268.5h0M627.5 269.5h0M628.5 258.5h0M628.5 260.5h0M628.5 273.5h0M629.5 250.5h0M629.5 252.5h0M629.5 263.5h0M629.5 275.5h0M630.5 255.5h0M630.5 257.5h0M630.5 266.5h0M630.5 279.5h0M630.5 281.5h0M631.5 269.5h0M631.5 270.5h0M632.5 260.5h0M632.5 262.5h0M632.5 283.5h0M632.5 284.5h0M632.5 286.5h0M633.5 265.5h0M633.5 274.5h0M633.5 276.5h0M633.5 285.5h0M633.5 287.5h0M633.5 288.5h0M634.5 267.5h0M634.5 280.5h0M634.5 283.5h0M634.5 285.5h0M634.5 287.5h0M634.5 288.5h0M634.5 291.5h0M635.5 270.5h0M635.5 272.5h0M635.5 281.5h0M635.5 283.5h0M635.5 292.5h0M635.5 293.5h0M636.5 275.5h0M636.5 284.5h0M636.5 285.5h0M636.5 287.5h0M636.5 290.5h0M636.5 293.5h0M636.5 295.5h0M636.5 297.5h0M637.5 277.5h0M637.5 284.5h0M637.5 285.5h0M637.5 288.5h0M637.5 292.5h0M637.5 299.5h0M637.5 301.5h0M638.5 280.5h0M638.5 287.5h0M638.5 288.5h0M638.5 290.5h0M638.5 292.5h0M638.5 293.5h0M638.5 296.5h0M638.5 299.5h0M638.5 300.5h0M638.5 301.5h0M639.5 281.5h0M639.5 283.5h0M639.5 285.5h0M639.5 290.5h0M639.5 295.5h0M639.5 300.5h0M639.5 303.5h0M640.5 278.5h0M640.5 283.5h0M640.5 285.5h0M640.5 286.5h0M640.5 288.5h0M640.5 291.5h0M640.5 293.5h0M640.5 295.5h0M640.5 297.5h0M640.5 302.5h0M640.5 303.5h0M640.5 305.5h0M640.5 306.5h0M641.5 285.5h0M641.5 286.5h0M641.5 287.5h0M641.5 290.5h0M641.5 293.5h0M641.5 296.5h0M641.5 298.5h0M642.5 286.5h0M642.5 288.5h0M642.5 291.5h0M642.5 295.5h0M642.5 298.5h0M642.5 300.5h0M642.5 301.5h0M642.5 303.5h0M642.5 305.5h0M642.5 306.5h0M642.5 308.5h0M643.5 290.5h0M643.5 294.5h0M643.5 297.5h0M643.5 300.5h0M643.5 304.5h0M643.5 307.5h0M644.5 293.5h0M644.5 295.5h0M644.5 299.5h0M644.5 302.5h0M644.5 305.5h0M644.5 308.5h0M645.5 295.5h0M645.5 297.5h0M645.5 300.5h0M645.5 303.5h0M645.5 307.5h0M645.5 308.5h0M646.5 298.5h0M646.5 302.5h0M646.5 305.5h0M647.5 296.5h0M647.5 300.5h0M647.5 303.5h0M647.5 307.5h0M647.5 309.5h0M648.5 298.5h0M648.5 301.5h0M648.5 305.5h0M649.5 297.5h0M649.5 300.5h0M649.5 303.5h0M649.5 306.5h0M649.5 308.5h0M650.5 295.5h0M650.5 298.5h0M650.5 301.5h0M650.5 305.5h0M650.5 309.5h0M651.5 293.5h0M651.5 295.5h0M651.5 296.5h0M651.5 300.5h0M651.5 303.5h0M651.5 307.5h0M652.5 290.5h0M652.5 291.5h0M652.5 297.5h0M652.5 298.5h0M652.5 300.5h0M652.5 301.5h0M652.5 303.5h0M653.5 287.5h0M653.5 288.5h0M653.5 290.5h0M653.5 294.5h0M653.5 295.5h0M653.5 297.5h0M653.5 299.5h0M654.5 284.5h0M654.5 286.5h0M654.5 287.5h0M654.5 290.5h0M654.5 292.5h0M655.5 283.5h0M655.5 287.5h0M655.5 288.5h0M655.5 289.5h0M655.5 291.5h0M655.5 293.5h0M655.5 294.5h0M656.5 278.5h0M656.5 285.5h0M656.5 288.5h0M656.5 291.5h0M657.5 277.5h0M657.5 282.5h0M657.5 284.5h0M657.5 285.5h0M657.5 286.5h0M657.5 288.5h0M657.5 289.5h0M657.5 290.5h0M658.5 272.5h0M658.5 273.5h0M658.5 284.5h0M658.5 286.5h0M658.5 287.5h0M659.5 268.5h0M659.5 277.5h0M659.5 279.5h0M659.5 284.5h0M660.5 265.5h0M660.5 267.5h0M660.5 283.5h0M661.5 261.5h0M661.5 264.5h0M661.5 273.5h0M661.5 274.5h0M662.5 259.5h0M662.5 263.5h0M662.5 264.5h0M662.5 269.5h0M662.5 280.5h0M663.5 254.5h0M663.5 256.5h0M663.5 257.5h0M663.5 259.5h0M663.5 267.5h0M663.5 278.5h0M664.5 254.5h0M664.5 265.5h0M664.5 274.5h0M664.5 276.5h0M665.5 248.5h0M665.5 250.5h0M665.5 251.5h0M666.5 243.5h0M666.5 244.5h0M666.5 245.5h0M666.5 269.5h0M666.5 271.5h0M667.5 239.5h0M667.5 242.5h0M667.5 265.5h0M668.5 237.5h0M668.5 240.5h0M668.5 260.5h0M668.5 262.5h0M668.5 264.5h0M668.5 265.5h0M669.5 232.5h0M669.5 234.5h0M669.5 235.5h0M669.5 254.5h0M669.5 256.5h0M669.5 259.5h0M670.5 228.5h0M670.5 229.5h0M670.5 232.5h0M670.5 249.5h0M670.5 251.5h0M671.5 223.5h0M671.5 226.5h0M671.5 251.5h0M671.5 253.5h0M672.5 216.5h0M672.5 220.5h0M672.5 224.5h0M672.5 226.5h0M672.5 243.5h0M672.5 245.5h0M672.5 248.5h0M673.5 215.5h0M673.5 220.5h0M673.5 240.5h0M674.5 211.5h0M674.5 215.5h0M674.5 218.5h0M674.5 239.5h0M674.5 243.5h0M674.5 245.5h0M674.5 246.5h0M675.5 210.5h0M675.5 213.5h0M675.5 235.5h0M675.5 245.5h0M676.5 204.5h0M676.5 206.5h0M676.5 239.5h0M676.5 240.5h0M676.5 244.5h0M677.5 208.5h0M677.5 210.5h0M677.5 232.5h0M677.5 236.5h0M677.5 242.5h0M678.5 199.5h0M678.5 201.5h0M678.5 202.5h0M678.5 204.5h0M678.5 232.5h0M678.5 234.5h0M679.5 194.5h0M679.5 196.5h0M679.5 199.5h0M679.5 229.5h0M679.5 233.5h0M679.5 238.5h0M680.5 188.5h0M680.5 190.5h0M680.5 197.5h0M680.5 228.5h0M681.5 193.5h0M681.5 224.5h0M681.5 225.5h0M681.5 232.5h0M681.5 234.5h0M682.5 182.5h0M682.5 184.5h0M682.5 192.5h0M682.5 218.5h0M682.5 220.5h0M682.5 222.5h0M682.5 226.5h0M682.5 228.5h0M683.5 178.5h0M683.5 188.5h0M683.5 211.5h0M683.5 214.5h0M683.5 216.5h0M684.5 177.5h0M684.5 184.5h0M684.5 187.5h0M684.5 208.5h0M684.5 211.5h0M685.5 174.5h0M685.5 182.5h0M685.5 203.5h0M685.5 206.5h0M685.5 210.5h0M686.5 172.5h0M686.5 178.5h0M686.5 201.5h0M686.5 206.5h0M687.5 168.5h0M687.5 177.5h0M687.5 184.5h0M687.5 197.5h0M687.5 198.5h0M687.5 201.5h0M687.5 204.5h0M688.5 167.5h0M688.5 172.5h0M688.5 173.5h0M688.5 182.5h0M688.5 196.5h0M689.5 168.5h0M689.5 190.5h0M689.5 192.5h0M689.5 193.5h0M689.5 195.5h0M690.5 163.5h0M690.5 164.5h0M690.5 167.5h0M690.5 184.5h0M690.5 186.5h0M690.5 189.5h0M691.5 159.5h0M691.5 163.5h0M691.5 182.5h0M691.5 187.5h0M692.5 157.5h0M692.5 158.5h0M692.5 162.5h0M692.5 184.5h0M693.5 158.5h0" stroke="#00f" stroke-width="5.56" stroke-linecap="round" fill="none"/><polyline points="163.5,282.0 167.0,291.0 171.5,301.0" fill="none" stroke="#fff" stroke-opacity="0.6" stroke-width="0.6"/><polyline points="631.5,271.0 635.5,283.0 639.0,292.0 641.5,300.0" fill="none" stroke="#fff" stroke-opacity="0.6" stroke-width="0.6"/><polyline points="234.4,143.0 229.2,150.3 227.0,158.0 225.3,164.3" fill="none" stroke="#fff" stroke-opacity="0.85" stroke-width="0.7"/><polyline points="245.0,125.9 248.2,120.3 251.0,118.3 255.9,116.1 258.4,111.5" fill="none" stroke="#fff" stroke-opacity="0.7" stroke-width="0.6"/><polyline points="205.6,220.0 204.0,230.0 201.5,238.0 199.0,245.0 196.5,254.0 194.5,262.0 193.5,269.0" fill="none" stroke="#fff" stroke-opacity="0.6" stroke-width="0.6"/><polyline points="665.0,265.0 667.0,253.0 669.0,246.0 671.0,239.0 673.5,232.0" fill="none" stroke="#fff" stroke-opacity="0.6" stroke-width="0.6"/><polyline points="377.9,260.0 380.4,270.0 382.2,280.0 383.9,290.0 386.4,305.0 388.3,315.0 389.8,325.0 391.0,335.0 392.0,343.0" fill="none" stroke="#fff" stroke-opacity="0.6" stroke-width="0.7"/></g><rect x="100.5" y="60.5" width="620" height="385" fill="none" stroke="#000" stroke-width="1.1"/><path d="M128.5 445.5v4.9M222.5 445.5v4.9M316.5 445.5v4.9M410.5 445.5v4.9M504.5 445.5v4.9M598.5 445.5v4.9M692.5 445.5v4.9M100 420.5h-4.9M100 373.5h-4.9M100 326.5h-4.9M100 279.5h-4.9M100 231.5h-4.9M100 184.5h-4.9M100 137.5h-4.9M100 90.5h-4.9" stroke="#000" stroke-width="1.1" fill="none"/><g style="filter:grayscale(1)"><text x="111.76" y="466.20" font-size="14.4" textLength="9.31" lengthAdjust="spacingAndGlyphs">−</text><text x="123.01" y="466.20" font-size="14.4" textLength="20.54" lengthAdjust="spacingAndGlyphs">0.6</text><text x="205.94" y="466.20" font-size="14.4" textLength="9.31" lengthAdjust="spacingAndGlyphs">−</text><text x="217.19" y="466.20" font-size="14.4" textLength="20.54" lengthAdjust="spacingAndGlyphs">0.4</text><text x="300.12" y="466.20" font-size="14.4" textLength="9.31" lengthAdjust="spacingAndGlyphs">−</text><text x="311.37" y="466.20" font-size="14.4" textLength="20.54" lengthAdjust="spacingAndGlyphs">0.2</text><text x="399.73" y="466.20" font-size="14.4" textLength="20.54" lengthAdjust="spacingAndGlyphs">0.0</text><text x="493.91" y="466.20" font-size="14.4" textLength="20.54" lengthAdjust="spacingAndGlyphs">0.2</text><text x="588.09" y="466.20" font-size="14.4" textLength="20.54" lengthAdjust="spacingAndGlyphs">0.4</text><text x="682.27" y="466.20" font-size="14.4" textLength="20.54" lengthAdjust="spacingAndGlyphs">0.6</text><text x="68.99" y="426.20" font-size="14.4" textLength="20.54" lengthAdjust="spacingAndGlyphs">0.5</text><text x="68.99" y="378.70" font-size="14.4" textLength="20.54" lengthAdjust="spacingAndGlyphs">0.6</text><text x="68.99" y="331.20" font-size="14.4" textLength="20.54" lengthAdjust="spacingAndGlyphs">0.7</text><text x="68.99" y="284.20" font-size="14.4" textLength="20.54" lengthAdjust="spacingAndGlyphs">0.8</text><text x="68.99" y="237.20" font-size="14.4" textLength="20.54" lengthAdjust="spacingAndGlyphs">0.9</text><text x="68.99" y="190.20" font-size="14.4" textLength="20.54" lengthAdjust="spacingAndGlyphs">1.0</text><text x="68.99" y="142.20" font-size="14.4" textLength="20.54" lengthAdjust="spacingAndGlyphs">1.1</text><text x="68.99" y="95.20" font-size="14.4" textLength="20.54" lengthAdjust="spacingAndGlyphs">1.2</text><text x="255.34" y="51.60" font-size="17.3" textLength="26.07" lengthAdjust="spacingAndGlyphs">TIC</text><text x="290.93" y="51.60" font-size="17.3" textLength="103.51" lengthAdjust="spacingAndGlyphs">0043533897,</text><text x="404.31" y="51.60" font-size="17.3" textLength="51.77" lengthAdjust="spacingAndGlyphs">period</text><text x="464.08" y="51.60" font-size="17.3" textLength="54.22" lengthAdjust="spacingAndGlyphs">0.3134</text><text x="526.14" y="51.60" font-size="17.3" textLength="38.37" lengthAdjust="spacingAndGlyphs">days</text><text x="389.78" y="485.20" font-size="14.4" textLength="40.44" lengthAdjust="spacingAndGlyphs">Phase</text><g transform="translate(59.5 323.70) rotate(-90)"><text x="0.99" y="0.00" font-size="14.4" textLength="77.04" lengthAdjust="spacingAndGlyphs">Normalized</text><text x="83.79" y="0.00" font-size="14.4" textLength="28.05" lengthAdjust="spacingAndGlyphs">PDC</text><text x="116.93" y="0.00" font-size="14.4" textLength="25.13" lengthAdjust="spacingAndGlyphs">flux</text></g></g></svg></body></html>
